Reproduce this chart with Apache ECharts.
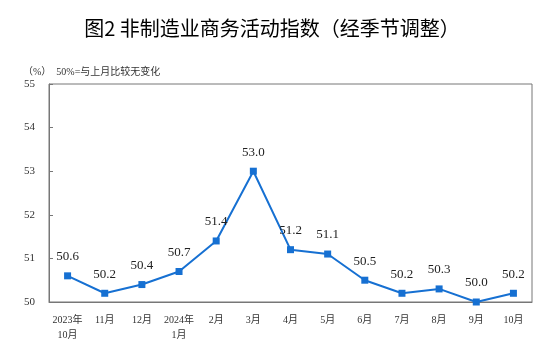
<!DOCTYPE html>
<html>
<head>
<meta charset="utf-8">
<script src="https://cdn.jsdelivr.net/npm/echarts@6/dist/echarts.min.js"></script>
<style>
    html, body { margin: 0; padding: 0; background: #fff; }
    #chart { width: 544px; height: 352px; }
</style>
</head>
<body>
<div id="chart"></div>
<script>
    var months = ['2023年\n10月', '11月', '12月', '2024年\n1月', '2月', '3月', '4月', '5月', '6月', '7月', '8月', '9月', '10月'];
    var indexValues = [50.6, 50.2, 50.4, 50.7, 51.4, 53.0, 51.2, 51.1, 50.5, 50.2, 50.3, 50.0, 50.2];

    var serif = '"Liberation Serif", "Times New Roman", "Noto Sans CJK SC", serif';

    var myChart = echarts.init(document.getElementById('chart'));
    var option = {
        animation: false,
        title: [
            {
                text: '图2 非制造业商务活动指数（经季节调整）',
                left: 'center',
                top: 13,
                textStyle: {
                    fontFamily: '"Noto Sans CJK SC", sans-serif',
                    fontSize: 20,
                    fontWeight: 'normal',
                    color: '#000'
                }
            },
            {
                text: '（%）  50%=与上月比较无变化',
                left: 18,
                top: 62,
                textStyle: {
                    fontFamily: serif,
                    fontSize: 10,
                    fontWeight: 'normal',
                    color: '#333'
                }
            }
        ],
        grid: {
            left: 49,
            right: 12,
            top: 84,
            bottom: 50,
            show: true,
            borderColor: '#777',
            borderWidth: 1
        },
        xAxis: {
            type: 'category',
            data: months,
            boundaryGap: true,
            axisLine: { lineStyle: { color: '#777' } },
            axisTick: { inside: true, length: 4, lineStyle: { color: '#777' } },
            axisLabel: {
                fontFamily: serif,
                fontSize: 10,
                color: '#333',
                margin: 11,
                lineHeight: 15,
                interval: 0
            }
        },
        yAxis: {
            type: 'value',
            min: 50,
            max: 55,
            interval: 1,
            splitLine: { show: false },
            axisLine: { show: true, lineStyle: { color: '#777' } },
            axisTick: { show: true, inside: true, length: 4, lineStyle: { color: '#777' } },
            axisLabel: {
                fontFamily: serif,
                fontSize: 11,
                color: '#333',
                margin: 14
            }
        },
        series: [
            {
                type: 'line',
                data: indexValues,
                symbol: 'rect',
                symbolSize: 7,
                lineStyle: { color: '#1670d2', width: 2 },
                itemStyle: { color: '#1670d2' },
                label: {
                    show: true,
                    position: 'top',
                    distance: 9,
                    fontFamily: serif,
                    fontSize: 13,
                    color: '#222',
                    formatter: function (p) { return p.value.toFixed(1); }
                }
            }
        ]
    };
    myChart.setOption(option);
</script>
</body>
</html>
